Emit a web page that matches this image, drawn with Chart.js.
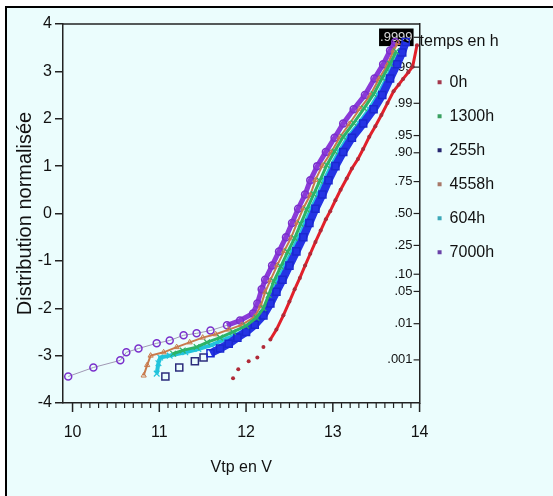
<!DOCTYPE html>
<html lang="fr">
<head>
<meta charset="utf-8">
<title>Distribution normalisée Vtp</title>
<script src="https://cdn.jsdelivr.net/npm/chart.js@4/dist/chart.umd.min.js"></script>
<style>
  html, body { margin: 0; padding: 0; background: #fff; overflow: hidden; }
  #cadre { position: absolute; left: 5px; top: 6px; width: 600px; height: 600px; border: 2px solid #000; background: #ebfdfd; }
  #zone { position: absolute; left: 0; top: 0; width: 553px; height: 496px; }
</style>
</head>
<body>
<div id="cadre"></div>
<div id="zone"><canvas id="myChartVtp"></canvas></div>
<script>
//? Valeurs : Vtp en V (x) et distribution normalisée (y).

const vtp0h = [11.85, 11.91, 12.03, 12.13, 12.2, 12.28, 12.35, 12.43, 12.5, 12.56, 12.62, 12.68, 12.74, 12.8, 12.86, 12.92, 12.97, 13.03, 13.09, 13.16, 13.22, 13.29, 13.35, 13.42, 13.49, 13.56, 13.63, 13.7, 13.76, 13.81, 13.87, 13.92, 13.97];
const z0h = [-3.48, -3.29, -3.12, -3.04, -2.82, -2.66, -2.45, -2.15, -1.86, -1.6, -1.36, -1.1, -0.85, -0.6, -0.36, -0.12, 0.05, 0.28, 0.5, 0.74, 0.95, 1.15, 1.36, 1.62, 1.84, 2.08, 2.33, 2.58, 2.72, 2.84, 2.98, 3.1, 3.55];

const vtp1300h = [11.16, 11.27, 11.43, 11.55, 11.7, 11.85, 12.0, 12.12, 12.2, 12.26, 12.32, 12.4, 12.48, 12.56, 12.63, 12.7, 12.78, 12.85, 12.93, 13.02, 13.12, 13.24, 13.36, 13.47, 13.57, 13.66, 13.73];
const z1300h = [-2.96, -2.89, -2.82, -2.72, -2.62, -2.5, -2.37, -2.2, -2.0, -1.72, -1.43, -1.12, -0.81, -0.52, -0.22, 0.08, 0.41, 0.69, 1.02, 1.31, 1.62, 1.91, 2.22, 2.52, 2.86, 3.16, 3.42];

const vtp255h = [11.07, 11.23, 11.41, 11.51, 11.59, 11.7, 11.8, 11.9, 12.0, 12.1, 12.2, 12.28, 12.35, 12.42, 12.5, 12.58, 12.66, 12.73, 12.8, 12.88, 12.95, 13.03, 13.12, 13.22, 13.35, 13.47, 13.57, 13.66, 13.74, 13.8, 13.84];
const z255h = [-3.44, -3.25, -3.12, -3.04, -2.95, -2.85, -2.75, -2.62, -2.5, -2.35, -2.15, -1.9, -1.65, -1.4, -1.1, -0.8, -0.5, -0.2, 0.1, 0.4, 0.7, 1.0, 1.3, 1.6, 1.9, 2.2, 2.5, 2.85, 3.15, 3.4, 3.62];

const vtp4558h = [10.82, 10.86, 10.9, 11.05, 11.2, 11.35, 11.5, 11.65, 11.8, 11.95, 12.1, 12.17, 12.22, 12.28, 12.36, 12.44, 12.52, 12.59, 12.66, 12.74, 12.8, 12.88, 12.98, 13.08, 13.19, 13.31, 13.43, 13.53, 13.63, 13.7, 13.75];
const z4558h = [-3.42, -3.2, -3.0, -2.93, -2.82, -2.72, -2.62, -2.55, -2.45, -2.35, -2.18, -1.95, -1.66, -1.41, -1.09, -0.79, -0.51, -0.19, 0.11, 0.39, 0.71, 1.01, 1.29, 1.61, 1.89, 2.21, 2.49, 2.84, 3.14, 3.44, 3.6];

const vtp604h = [10.97, 10.99, 11.01, 11.12, 11.3, 11.45, 11.6, 11.75, 11.9, 12.05, 12.15, 12.23, 12.3, 12.37, 12.45, 12.53, 12.61, 12.68, 12.75, 12.83, 12.9, 12.98, 13.07, 13.17, 13.3, 13.42, 13.52, 13.62, 13.7, 13.77];
const z604h = [-3.38, -3.16, -3.04, -3.0, -2.93, -2.86, -2.78, -2.66, -2.55, -2.4, -2.22, -2.0, -1.7, -1.4, -1.1, -0.8, -0.5, -0.2, 0.1, 0.4, 0.7, 1.0, 1.3, 1.6, 1.9, 2.2, 2.5, 2.85, 3.15, 3.4];

const vtp7000h = [9.95, 10.24, 10.55, 10.62, 10.76, 10.97, 11.12, 11.28, 11.43, 11.59, 11.78, 11.93, 12.08, 12.13, 12.18, 12.22, 12.3, 12.38, 12.46, 12.53, 12.6, 12.68, 12.74, 12.82, 12.92, 13.02, 13.12, 13.24, 13.37, 13.48, 13.58, 13.66, 13.72];
const z7000h = [-3.44, -3.25, -3.1, -2.93, -2.85, -2.74, -2.68, -2.57, -2.53, -2.47, -2.36, -2.26, -2.11, -1.9, -1.6, -1.4, -1.1, -0.8, -0.5, -0.2, 0.1, 0.4, 0.7, 1.0, 1.3, 1.6, 1.9, 2.2, 2.5, 2.85, 3.15, 3.44, 3.62];

//? Légende et axes.

const nomsSeries = ["0h", "1300h", "255h", "4558h", "604h", "7000h"];
const couleursLegende = ["#a4384c", "#3aa060", "#262670", "#a87868", "#3ca8b8", "#6a42a8"];

const ticksBas = [10, 11, 12, 13, 14];
const quantilesDroite = [-3.09, -2.326, -1.645, -1.282, -0.674, 0, 0.674, 1.282, 1.645, 2.326, 3.09, 3.719];
const etiquettesDroite = [".001", ".01", ".05", ".10", ".25", ".50", ".75", ".90", ".95", ".99", ".999", ".9999"];

//? -------------------------------------------------

const versPoints = (tabX, tabY) => tabX.map((x, i) => ({ x, y: tabY[i] }));

const transparent = "rgba(0,0,0,0)";

//? Graduations du bas, graduations de droite et trait du haut.

const pluginGraduations = {
  id: "graduations",
  afterDraw(chart) {
    const { ctx, chartArea, scales } = chart;
    ctx.save();
    ctx.strokeStyle = "#222";

    scales.x.ticks.forEach((t) => {
      const px = scales.x.getPixelForValue(t.value);
      const majeure = Math.abs(t.value - Math.round(t.value)) < 1e-6;
      ctx.lineWidth = majeure ? 1.5 : 1.2;
      ctx.beginPath();
      ctx.moveTo(px, chartArea.bottom);
      ctx.lineTo(px, chartArea.bottom + (majeure ? 9 : 5));
      ctx.stroke();
    });

    ctx.lineWidth = 1.2;
    scales.y2.ticks.forEach((t) => {
      const py = scales.y2.getPixelForValue(t.value);
      ctx.beginPath();
      ctx.moveTo(chartArea.right - 6, py);
      ctx.lineTo(chartArea.right, py);
      ctx.stroke();
    });

    ctx.lineWidth = 1.5;
    ctx.beginPath();
    ctx.moveTo(chartArea.left, chartArea.top);
    ctx.lineTo(chartArea.right, chartArea.top);
    ctx.stroke();
    ctx.restore();
  },
};

//? Construction du graphique.

let constructionDuGraphique = () => {
  try {
    Chart.defaults.font.family = "'Liberation Sans', Arial, sans-serif";
    Chart.defaults.font.size = 16;
    Chart.defaults.color = "#111";

    const ctxVtp = document.getElementById("myChartVtp").getContext("2d");

    const data = {
      datasets: [
        //? 0h
        {
          label: nomsSeries[0],
          data: versPoints(vtp0h, z0h),
          showLine: true,
          borderColor: "#e2202a",
          borderWidth: 3,
          pointStyle: "circle",
          pointRadius: 2,
          pointBorderWidth: 0,
          pointBackgroundColor: "#b02a38",
          segment: {
            borderColor: (c) => (c.p0.parsed.y < -2.8 ? transparent : undefined),
          },
        },
        //? 1300h
        {
          label: nomsSeries[1],
          data: versPoints(vtp1300h, z1300h),
          showLine: true,
          borderColor: "#2cb468",
          borderWidth: 3,
          pointStyle: "crossRot",
          pointRadius: 4,
          pointBorderWidth: 1.2,
          pointBorderColor: "#2cb468",
        },
        //? 255h
        {
          label: nomsSeries[2],
          data: versPoints(vtp255h, z255h),
          showLine: true,
          borderColor: "#2434e4",
          borderWidth: 8,
          pointStyle: "rect",
          pointRadius: (c) => (c.dataIndex < 4 ? 5 : 5),
          pointBorderWidth: 1.5,
          pointBorderColor: (c) => (c.dataIndex < 4 ? "#2c2c7c" : "#1a28d0"),
          pointBackgroundColor: transparent,
          segment: {
            borderColor: (c) => (c.p0.parsed.y < -3.0 ? transparent : undefined),
          },
        },
        //? 4558h
        {
          label: nomsSeries[3],
          data: versPoints(vtp4558h, z4558h),
          showLine: true,
          borderColor: "#c87a4c",
          borderWidth: 2,
          pointStyle: "triangle",
          pointRadius: 3,
          pointBorderWidth: 1,
          pointBorderColor: "#c87a4c",
          pointBackgroundColor: transparent,
        },
        //? 604h
        {
          label: nomsSeries[4],
          data: versPoints(vtp604h, z604h),
          showLine: true,
          borderColor: "#22c4dc",
          borderWidth: 4,
          pointStyle: "crossRot",
          pointRadius: 4,
          pointBorderWidth: 1.2,
          pointBorderColor: "#22c4dc",
        },
        //? 7000h
        {
          label: nomsSeries[5],
          data: versPoints(vtp7000h, z7000h),
          showLine: true,
          borderColor: "#8a3ad8",
          borderWidth: 5,
          pointStyle: "circle",
          pointRadius: 3.5,
          pointBorderWidth: 1.5,
          pointBorderColor: "#7a30cc",
          pointBackgroundColor: transparent,
          segment: {
            borderColor: (c) => (c.p1.parsed.y < -2.3 ? "#a098b4" : undefined),
            borderWidth: (c) => (c.p1.parsed.y < -2.3 ? 1 : undefined),
          },
        },
      ],
    };

    const options = {
      responsive: true,
      maintainAspectRatio: false,
      animation: false,
      layout: { padding: { top: 24, right: 49.5, bottom: 0, left: 0 } },
      plugins: {
        tooltip: { enabled: false },
        legend: {
          position: "right",
          align: "start",
          title: {
            display: true,
            text: "temps en h",
            position: "start",
            font: { size: 16 },
            padding: { top: 10, bottom: 3 },
          },
          labels: {
            boxWidth: 4,
            boxHeight: 4,
            padding: 18,
            font: { size: 16 },
            generateLabels: (chart) => {
              const items = Chart.defaults.plugins.legend.labels.generateLabels(chart);
              items.forEach((it, i) => {
                it.fillStyle = couleursLegende[i];
                it.strokeStyle = couleursLegende[i];
                it.lineWidth = 0;
              });
              return items;
            },
          },
        },
      },
      scales: {
        x: {
          type: "linear",
          min: 9.89,
          max: 14,
          afterBuildTicks: (scale) => {
            const graduations = [];
            for (let k = 0; k <= 40; k++) graduations.push({ value: ticksBas[0] + k / 10 });
            scale.ticks = graduations;
          },
          afterFit: (scale) => {
            scale.height = 93;
          },
          grid: { display: false, drawTicks: false },
          border: { display: true, color: "#222", width: 1.5 },
          ticks: {
            autoSkip: false,
            maxRotation: 0,
            padding: 20,
            callback: (value) => {
              const arrondi = Math.round(value);
              return Math.abs(value - arrondi) < 1e-6 && ticksBas.includes(arrondi) ? String(arrondi) : "";
            },
          },
          title: {
            display: true,
            text: "Vtp en V",
            font: { size: 16 },
            padding: { top: 0, bottom: 19 },
          },
        },
        y: {
          type: "linear",
          position: "left",
          min: -4,
          max: 4,
          afterFit: (scale) => {
            scale.width = 63;
          },
          grid: { drawOnChartArea: false, drawTicks: true, tickLength: 8, color: "#222", lineWidth: 1.5 },
          border: { display: true, color: "#222", width: 1.5 },
          ticks: { stepSize: 1, padding: 3 },
          title: {
            display: true,
            text: "Distribution normalisée",
            font: { size: 20 },
            padding: { top: 13, bottom: 0 },
          },
        },
        y2: {
          type: "linear",
          position: "right",
          min: -4,
          max: 4,
          afterBuildTicks: (scale) => {
            scale.ticks = quantilesDroite.map((v) => ({ value: v }));
          },
          afterFit: (scale) => {
            scale.width = 0;
          },
          grid: { display: false, drawTicks: false },
          border: { display: true, color: "#222", width: 1.5 },
          ticks: {
            mirror: true,
            padding: -7,
            font: { family: "'Liberation Sans Narrow', 'Liberation Sans', Arial, sans-serif", size: 13 },
            callback: (value, index) => etiquettesDroite[index],
            showLabelBackdrop: (c) => c.index === etiquettesDroite.length - 1,
            backdropColor: "#000",
            backdropPadding: 1,
            color: (c) => (c.index === etiquettesDroite.length - 1 ? "#d8d8d8" : "#111"),
          },
        },
      },
    };

    new Chart(ctxVtp, { type: "scatter", data, options, plugins: [pluginGraduations] });
  } catch (error) {
    console.log("🔴 ERREUR | Construction graphique Vtp :", error);
  }
};

constructionDuGraphique();
</script>
</body>
</html>
